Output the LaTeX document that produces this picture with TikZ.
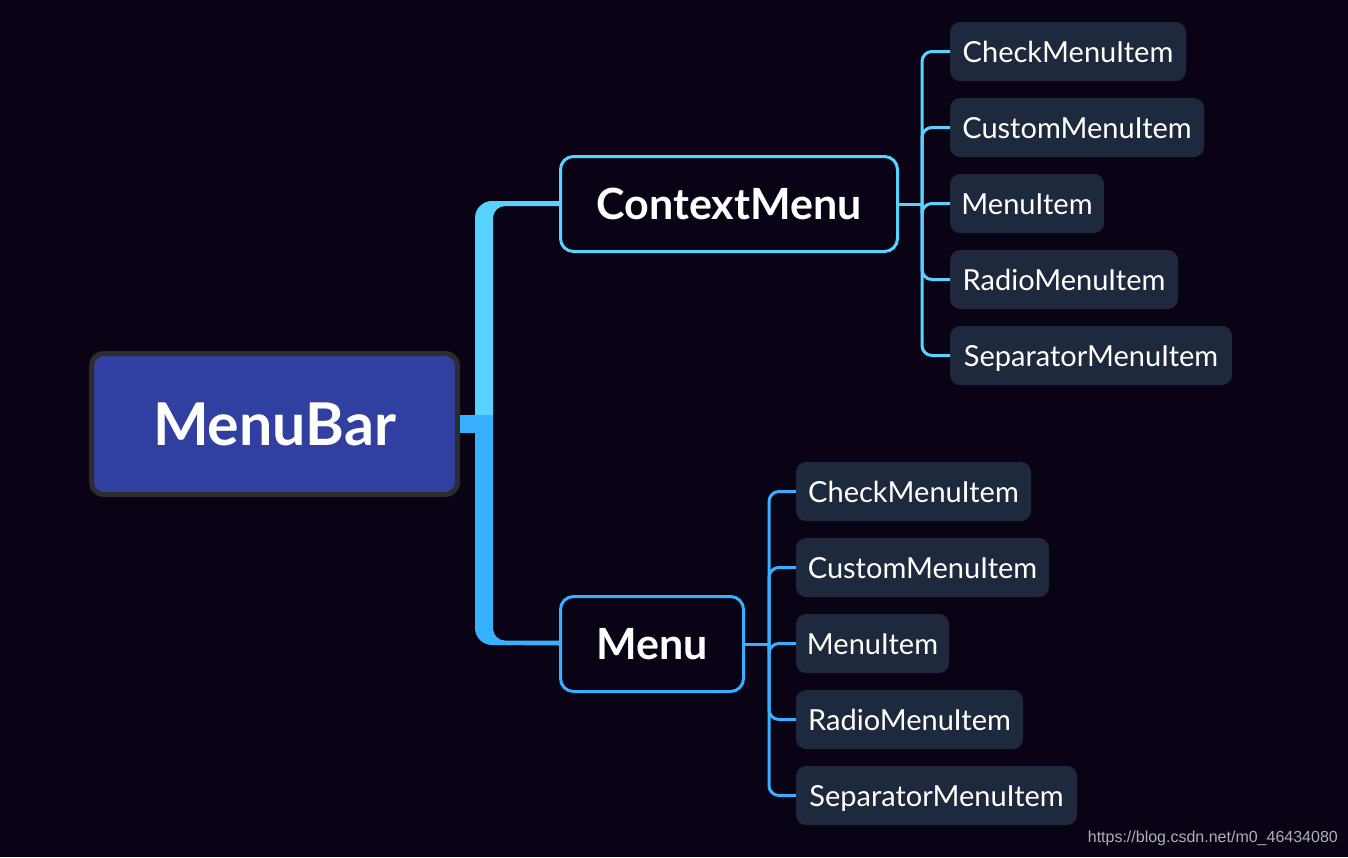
\documentclass[tikz,border=0pt]{standalone}
\usepackage{fontspec}
\setmainfont{Lato}
\newfontfamily\wmfont{Liberation Sans}
\usetikzlibrary{calc}
\definecolor{bg}{RGB}{10,3,22}
\definecolor{rootfill}{RGB}{49,64,160}
\definecolor{rootborder}{RGB}{45,45,45}
\definecolor{cyanc}{RGB}{88,211,255}
\definecolor{bluec}{RGB}{55,176,255}
\definecolor{leaffill}{RGB}{31,41,62}
\definecolor{wmgray}{RGB}{175,175,180}
\tikzset{
  rootbox/.style={draw=rootborder, line width=5pt, fill=rootfill, rounded corners=12pt,
    minimum width=366pt, minimum height=141pt, text=white, text height=42.5pt, text depth=0pt,
    font=\bfseries\fontsize{59}{61}\selectfont},
  subbox/.style={line width=3pt, fill=bg, rounded corners=13pt, minimum height=95pt,
    text=white, text height=31pt, text depth=0pt, font=\bfseries\fontsize{43}{45}\selectfont},
  leafbox/.style={fill=leaffill, rounded corners=10pt, minimum height=59pt, anchor=west,
    outer sep=0pt, inner xsep=0pt, text=white, text height=21pt, text depth=0pt,
    font=\fontsize{29}{31}\selectfont},
  cline/.style={line width=3pt, rounded corners=10pt}
}
\begin{document}
\begin{tikzpicture}[x=1pt,y=-1pt]
\fill[bg] (0,0) rectangle (1348,857);
\useasboundingbox (0,0) rectangle (1348,857);

% nodes
\node[rootbox] (root) at (274.5,424) {MenuBar};
\node[subbox, draw=cyanc, minimum width=337pt] (ctx) at (729,204) {ContextMenu};
\node[subbox, draw=bluec, minimum width=183pt] (menu) at (652,644) {Menu};

\node[leafbox, minimum width=236pt] (c1) at (950,51.5) {CheckMenuItem};
\node[leafbox, minimum width=254pt] (c2) at (950,127.5) {CustomMenuItem};
\node[leafbox, minimum width=154pt] (c3) at (950,203.5) {MenuItem};
\node[leafbox, minimum width=228pt] (c4) at (950,279.5) {RadioMenuItem};
\node[leafbox, minimum width=282pt] (c5) at (950,355.5) {SeparatorMenuItem};

\node[leafbox, minimum width=235pt] (m1) at (796,491.5) {CheckMenuItem};
\node[leafbox, minimum width=253pt] (m2) at (796,567.5) {CustomMenuItem};
\node[leafbox, minimum width=153pt] (m3) at (796,643.5) {MenuItem};
\node[leafbox, minimum width=227pt] (m4) at (796,719.5) {RadioMenuItem};
\node[leafbox, minimum width=281pt] (m5) at (796,795.5) {SeparatorMenuItem};

% trunk from root
\fill[bluec] (root.east |- 0,415) rectangle (493,433);
\fill[cyanc] (475,415) -- (475,218) arc[start angle=180, end angle=270, radius=17]
  -- (ctx.west |- 0,201) -- (ctx.west |- 0,206) -- (505,206)
  arc[start angle=270, end angle=180, radius=12] -- (493,415) -- cycle;
\fill[bluec] (475,415) -- (475,628) arc[start angle=180, end angle=90, radius=17]
  -- (menu.west |- 0,645.5) -- (menu.west |- 0,640.5) -- (505,640.5)
  arc[start angle=90, end angle=180, radius=12] -- (493,415) -- cycle;

% ContextMenu children
\coordinate (cj) at ($(ctx.east)+(23,0)$);
\draw[cline, draw=cyanc] (ctx.east) -- (cj);
\foreach \l in {c1,c2,c3,c4,c5}{\draw[cline, draw=cyanc] (cj) |- (\l.west);}

% Menu children
\coordinate (mj) at ($(menu.east)+(24,0)$);
\draw[cline, draw=bluec] (menu.east) -- (mj);
\foreach \l in {m1,m2,m3,m4,m5}{\draw[cline, draw=bluec] (mj) |- (\l.west);}

% watermark
\node[text=wmgray, font=\wmfont\fontsize{16}{16}\selectfont, anchor=east, inner sep=0pt] (wm) at (1338,838) {https://blog.csdn.net/m0\_46434080};
\end{tikzpicture}
\end{document}
